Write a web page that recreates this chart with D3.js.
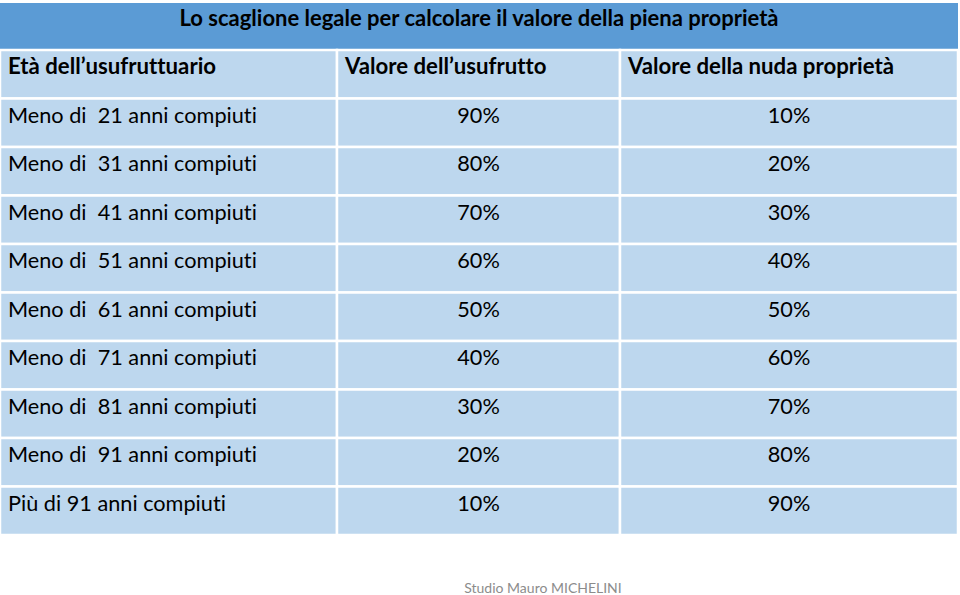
<!DOCTYPE html>
<html>
<head>
<meta charset="utf-8">
<script src="https://cdn.jsdelivr.net/npm/d3@7"></script>
<style>
  body { margin: 0; background: #fff; }
  svg { display: block; }
  text { font-variant-ligatures: none; }
</style>
</head>
<body>
<div id="chart"></div>
<script>
const title = 'Lo scaglione legale per calcolare il valore della piena proprietà';
const headers = ['Età dell\u2019usufruttuario', 'Valore dell\u2019usufrutto', 'Valore della nuda proprietà'];
const ages = [
    'Meno di  21 anni compiuti',
    'Meno di  31 anni compiuti',
    'Meno di  41 anni compiuti',
    'Meno di  51 anni compiuti',
    'Meno di  61 anni compiuti',
    'Meno di  71 anni compiuti',
    'Meno di  81 anni compiuti',
    'Meno di  91 anni compiuti',
    'Più di 91 anni compiuti'
];
const usufrutto = [90, 80, 70, 60, 50, 40, 30, 20, 10];
const nudaProprieta = [10, 20, 30, 40, 50, 60, 70, 80, 90];
const footer = 'Studio Mauro MICHELINI';

const width = 960, height = 595;
const font = 'Lato, "Open Sans", sans-serif';

const svg = d3.select('#chart').append('svg')
    .attr('width', width)
    .attr('height', height);

// column edges
const colEdges = [0, 337, 620, 958];

// rows: header + data rows
const rowKeys = ['header'].concat(ages.map((a, i) => i));
const y = d3.scaleBand()
    .domain(rowKeys)
    .range([50, 535]);

// title row
svg.append('rect')
    .attr('x', colEdges[0])
    .attr('y', 3)
    .attr('width', colEdges[3] - colEdges[0])
    .attr('height', 47)
    .attr('fill', '#5b9bd5');

svg.append('text')
    .attr('x', 479)
    .attr('y', 26)
    .attr('text-anchor', 'middle')
    .attr('font-family', font)
    .attr('font-weight', 'bold')
    .attr('font-size', 22)
    .attr('fill', '#000')
    .text(title);

// cells
const cells = [];
rowKeys.forEach((k, r) => {
    for (let c = 0; c < 3; c++) {
        let txt;
        if (k === 'header') txt = headers[c];
        else if (c === 0) txt = ages[k];
        else if (c === 1) txt = usufrutto[k] + '%';
        else txt = nudaProprieta[k] + '%';
        cells.push({ row: k, col: c, text: txt, header: k === 'header' });
    }
});

svg.selectAll('rect.cell')
    .data(cells)
    .join('rect')
    .attr('class', 'cell')
    .attr('x', d => colEdges[d.col])
    .attr('y', d => y(d.row))
    .attr('width', d => colEdges[d.col + 1] - colEdges[d.col])
    .attr('height', y.bandwidth())
    .attr('fill', '#bdd7ee')
    .attr('stroke', '#fff')
    .attr('stroke-width', 2.5);

svg.selectAll('text.cell')
    .data(cells)
    .join('text')
    .attr('class', 'cell')
    .attr('x', d => (d.col === 0 || d.header) ? colEdges[d.col] + 8 : (colEdges[d.col] + colEdges[d.col + 1]) / 2)
    .attr('y', d => y(d.row) + 24)
    .attr('text-anchor', d => (d.col === 0 || d.header) ? 'start' : 'middle')
    .attr('font-family', font)
    .attr('font-weight', d => d.header ? 'bold' : 'normal')
    .attr('font-size', d => d.header ? 22.2 : 21.7)
    .attr('fill', '#000')
    .style('white-space', 'pre')
    .text(d => d.text);

svg.append('text')
    .attr('x', 543)
    .attr('y', 593)
    .attr('text-anchor', 'middle')
    .attr('font-family', font)
    .attr('font-size', 14)
    .attr('fill', '#8c8c8c')
    .text(footer);
</script>
</body>
</html>
